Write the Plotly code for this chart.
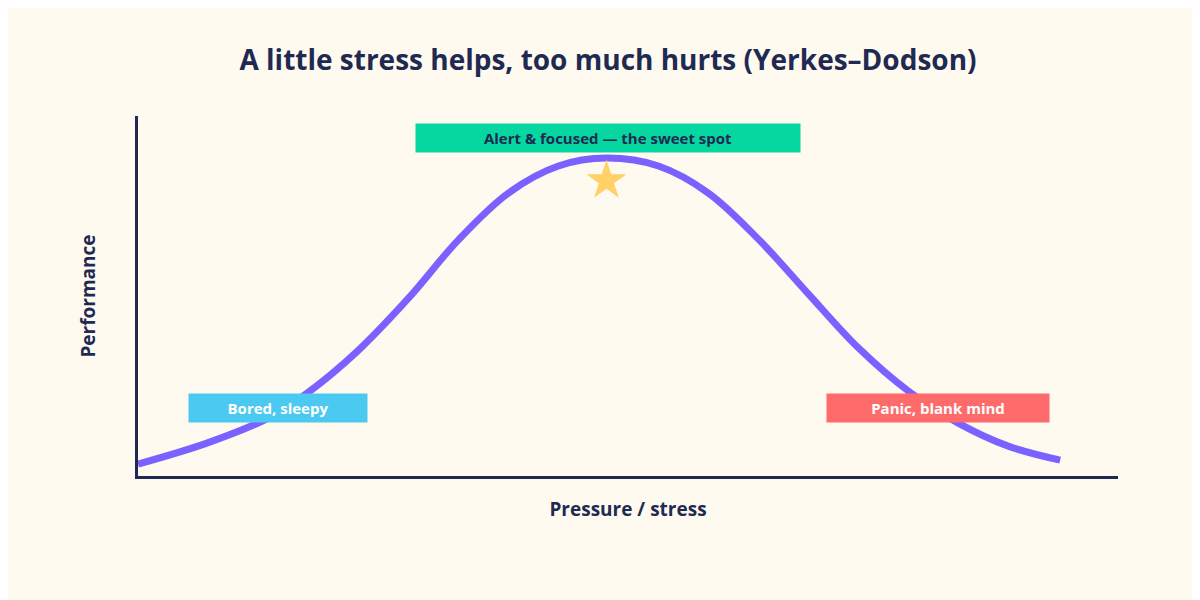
import plotly.graph_objects as go

# pressure (0-10) vs performance (0-10)
stress = [0, 0.71, 1.33, 1.73, 2.24, 2.76, 3.27, 3.78, 4.29, 4.78, 5.31, 5.82, 6.33, 6.84, 7.35, 7.86, 8.37, 8.88, 9.41]
performance = [0.33, 0.92, 1.61, 2.31, 3.47, 4.94, 6.56, 7.86, 8.61, 8.83, 8.61, 7.86, 6.58, 5.06, 3.56, 2.36, 1.47, 0.83, 0.44]

peak_x, peak_y = 4.78, 8.2
zones = [
    ("Bored, sleepy", 1.43, 1.9, "#4cc9f0"),
    ("Alert & focused — the sweet spot", 4.8, 9.4, "#06d6a0"),
    ("Panic, blank mind", 8.16, 1.9, "#ff6b6b"),
]
zone_text_color = ["white", "#1f2a52", "white"]
zone_width = [170, 376, 214]

navy = "#1f2a52"
bg = "#fffaf0"

fig = go.Figure()
fig.add_trace(go.Scatter(x=stress, y=performance, mode="lines",
                         line=dict(color="#7b61ff", width=7, shape="spline"),
                         hoverinfo="skip", showlegend=False))
fig.add_trace(go.Scatter(x=[peak_x], y=[peak_y], mode="markers",
                         marker=dict(symbol="star", size=30, color="#ffd166"),
                         hoverinfo="skip", showlegend=False))

for (label, x, y, color), tc, w in zip(zones, zone_text_color, zone_width):
    fig.add_annotation(x=x, y=y, text=f"<b>{label}</b>", showarrow=False,
                       bgcolor=color, borderpad=4, width=w, height=20,
                       font=dict(size=15, color=tc, family="Open Sans"))

fig.update_layout(
    width=1200, height=600,
    paper_bgcolor=bg, plot_bgcolor=bg,
    margin=dict(l=130, r=90, t=108, b=132),
    font=dict(family="Open Sans", color=navy),
    title=dict(text="<b>A little stress helps, too much hurts (Yerkes–Dodson)</b>",
               x=0.5, xanchor="center", y=0.93, font=dict(size=28, color=navy)),
)
fig.update_xaxes(range=[0, 10], showgrid=False, zeroline=False, showticklabels=False,
                 showline=True, linecolor=navy, linewidth=3,
                 title=dict(text="<b>Pressure / stress</b>", font=dict(size=19), standoff=25))
fig.update_yaxes(range=[0, 10], showgrid=False, zeroline=False, showticklabels=False,
                 showline=True, linecolor=navy, linewidth=3,
                 title=dict(text="<b>Performance</b>", font=dict(size=19), standoff=35))

fig.write_html("out.html")
